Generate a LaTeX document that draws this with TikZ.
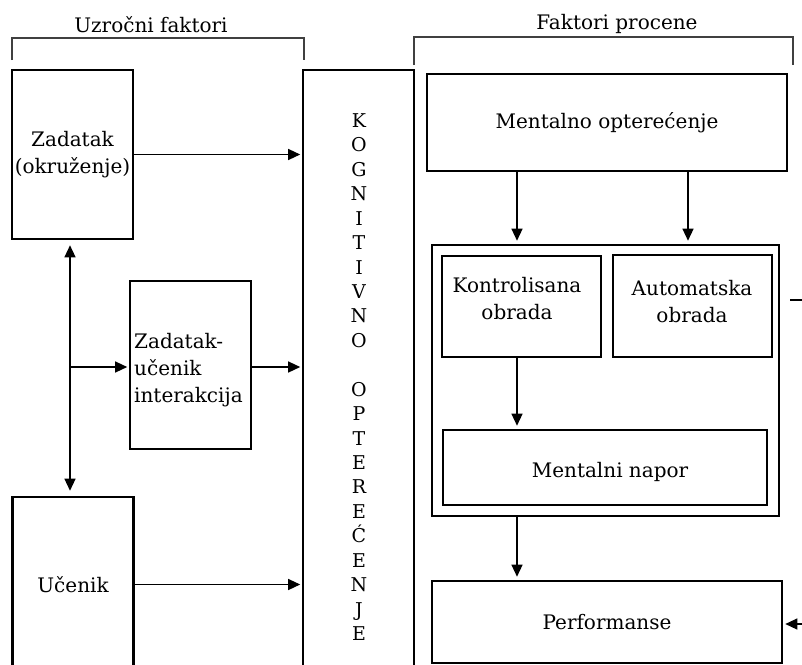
\documentclass[tikz,border=0pt]{standalone}
\usepackage{fontspec}
\setmainfont{DejaVu Serif}
\usetikzlibrary{arrows.meta}
\begin{document}
\begin{tikzpicture}[x=1pt,y=-1pt,
  box/.style={draw, line width=2.6pt, inner sep=0pt, align=center,
    font=\fontsize{20}{27}\selectfont},
  txt/.style={inner sep=0pt, align=center, font=\fontsize{20}{27}\selectfont},
  vl/.style={inner sep=0pt, font=\fontsize{19}{20}\selectfont, text height=13pt, text depth=0pt},
  arr/.style={line width=1.3pt, -{Triangle[length=12pt,width=11pt]}, shorten >=1.5pt},
  darr/.style={line width=1.3pt, {Triangle[length=12pt,width=11pt]}-{Triangle[length=12pt,width=11pt]}, shorten >=5pt, shorten <=5pt},
  brk/.style={line width=1.1pt, draw=black!75},
]
\useasboundingbox (0,0) rectangle (802,664);

% headers
\draw[brk] (12,60) -- (12,38) -- (304,38) -- (304,60);
\draw[brk] (414,65) -- (414,37) -- (793,37) -- (793,65);
\node[txt, anchor=base] (h1) at (151,32) {Uzročni faktori};
\node[txt, anchor=base] (h2) at (617,29) {Faktori procene};

% left column
\node[box, minimum width=121pt, minimum height=169pt] (zad) at (72.5,154.5) {Zadatak\\(okruženje)};
\node[box, minimum width=121pt, minimum height=175pt] (uc) at (73,584.5) {Učenik};
\node[box, minimum width=121pt, minimum height=168pt] (zu) at (190.5,365) {};
\node[txt, anchor=west, align=left] (zut) at (134,370) {Zadatak-\\učenik\\interakcija};

% cognitive load column
\node[box, minimum width=111pt, minimum height=602pt] (kog) at (358.5,371) {};
\foreach \c [count=\i from 0] in {K,O,G,N,I,T,I,V,N,O}
  \node[vl] (ka\i) at (359,{121+\i*24.43}) {\c};
\foreach \c [count=\i from 0] in {O,P,T,E,R,E,Ć,E,N,J,E}
  \node[vl] (kb\i) at (359,{121+(\i+11)*24.43}) {\c};

% left connectors
\coordinate (j) at (70,367);
\draw[arr] (zad.east) -- (zad.east -| kog.west);
\draw[arr] (uc.east) -- (uc.east -| kog.west);
\draw[arr] (zu.east |- j) -- (kog.west |- j);
\draw[arr] (j) -- (zu.west |- j);
\draw[darr] (j |- zad.south) -- (j |- uc.north);

% right column
\node[box, minimum width=360pt, minimum height=97pt] (mo) at (607,122.5) {Mentalno opterećenje};
\node[box, minimum width=347pt, minimum height=271pt] (out) at (605.5,380.5) {};
\node[box, minimum width=159pt, minimum height=101pt] (ko) at (521.5,306.5) {};
\node[txt] (kot) at (517,298.5) {Kontrolisana\\obrada};
\node[box, minimum width=159pt, minimum height=102pt] (au) at (692.5,306) {};
\node[txt] (aut) at (692,301.5) {Automatska\\obrada};
\node[box, minimum width=324pt, minimum height=75pt] (mn) at (605,467.5) {};
\node[txt] (mnt) at (610,472) {Mentalni napor};
\node[box, minimum width=350pt, minimum height=82pt] (perf) at (607,622) {Performanse};

% right connectors
\coordinate (c1) at (517,0);
\coordinate (c2) at (688,0);
\draw[arr, shorten >=3pt] (mo.south -| c1) -- (out.north -| c1);
\draw[arr, shorten >=3pt] (mo.south -| c2) -- (out.north -| c2);
\draw[arr, shorten >=3pt] (ko.south -| c1) -- (mn.north -| c1);
\draw[arr, shorten >=3pt] (out.south -| c1) -- (perf.north -| c1);

\coordinate (d1) at (790,300);
\coordinate (d2) at (803,300);
\draw[line width=1.2pt] (d1) -- (d2);
\coordinate (e1) at (803,624);
\draw[arr, shorten >=2pt] (e1) -- (perf.east |- e1);
\end{tikzpicture}
\end{document}
